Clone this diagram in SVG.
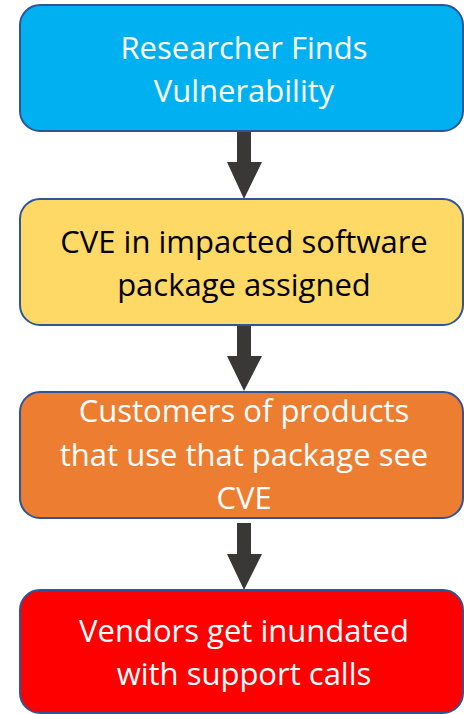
<svg xmlns="http://www.w3.org/2000/svg" width="464" height="714" viewBox="0 0 464 714">
  <style>
    .box { stroke: #2F5597; stroke-width: 2; }
    .lbl { font-family: "Open Sans", "Noto Sans", sans-serif; font-size: 31px; text-anchor: middle; }
    .light { fill: #FFFFFF; }
    .dark { fill: #000000; }
    .arrow { fill: #3A3836; }
  </style>
  <rect width="464" height="714" fill="#FFFFFF"/>

  <g id="connectors">
    <polygon class="arrow" points="237,131 251,131 251,162 262,162 244,199 227,162 237,162"/>
    <polygon class="arrow" points="237,325 251,325 251,356 262,356 244,391 227,356 237,356"/>
    <polygon class="arrow" points="237,523 251,523 251,554 262,554 244,590 227,554 237,554"/>
  </g>

  <g id="researcher-finds">
    <rect class="box" x="20" y="5" width="443" height="126" rx="20" fill="#00B0F0"/>
    <text class="lbl light" x="244" y="59">Researcher Finds</text>
    <text class="lbl light" x="244" y="102">Vulnerability</text>
  </g>

  <g id="cve-assigned">
    <rect class="box" x="20" y="199" width="443" height="126" rx="20" fill="#FFD966"/>
    <text class="lbl dark" x="244" y="253">CVE in impacted software</text>
    <text class="lbl dark" x="244" y="296">package assigned</text>
  </g>

  <g id="customers-see">
    <rect class="box" x="20" y="392" width="443" height="126" rx="20" fill="#ED7D31"/>
    <text class="lbl light" x="244" y="422">Customers of products</text>
    <text class="lbl light" x="244" y="466">that use that package see</text>
    <text class="lbl light" x="244" y="509">CVE</text>
  </g>

  <g id="vendors-inundated">
    <rect class="box" x="20" y="590" width="443" height="123" rx="20" fill="#FF0000"/>
    <text class="lbl light" x="244" y="642">Vendors get inundated</text>
    <text class="lbl light" x="244" y="685">with support calls</text>
  </g>
</svg>
